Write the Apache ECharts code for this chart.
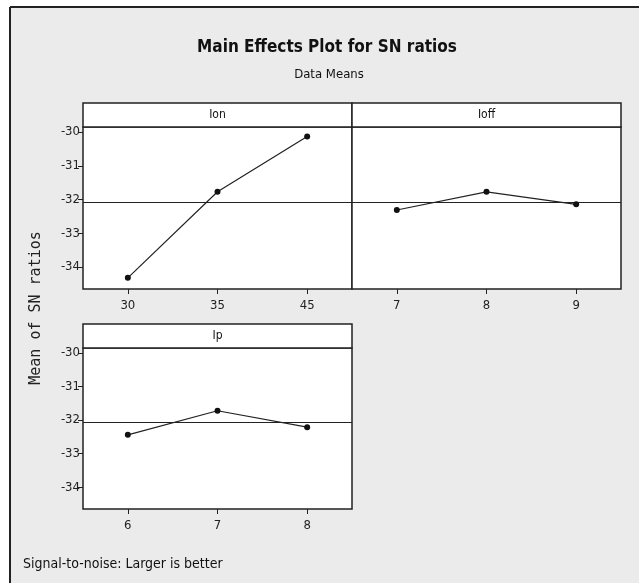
<!DOCTYPE html>
<html>
<head>
<meta charset="utf-8">
<script src="https://cdn.jsdelivr.net/npm/echarts@6/dist/echarts.min.js"></script>
<style>
  html, body {margin: 0; padding: 0; background: #fff;}
  #chart {width: 639px; height: 583px;}
</style>
</head>
<body>
<div id="chart"></div>
<script>
const ionLevels = ['30', '35', '45'];
const ionMeans = [-34.32, -31.77, -30.13];
const ioffLevels = ['7', '8', '9'];
const ioffMeans = [-32.31, -31.77, -32.14];
const ipLevels = ['6', '7', '8'];
const ipMeans = [-32.44, -31.72, -32.21];
const grandMean = -32.07;
const yTicks = [-34, -33, -32, -31, -30];

const font = "'Liberation Sans Narrow', 'DejaVu Sans Condensed', 'Liberation Sans', sans-serif";
const titleFont = "'DejaVu Sans Condensed', 'Liberation Sans Narrow', sans-serif";
const chart = echarts.init(document.getElementById('chart'));

// panel boxes (plot part, header strip sits above)
const panels = [
  {left: 83, top: 127, width: 269, height: 162, head: 103, name: 'Ion', cats: ionLevels, data: ionMeans, yLabels: true},
  {left: 352, top: 127, width: 269, height: 162, head: 103, name: 'Ioff', cats: ioffLevels, data: ioffMeans, yLabels: false},
  {left: 83, top: 348, width: 269, height: 161, head: 324, name: 'Ip', cats: ipLevels, data: ipMeans, yLabels: true}
];

const grid = panels.map(p => ({
  left: p.left, top: p.top, width: p.width, height: p.height,
  show: true, backgroundColor: '#fff', borderColor: '#222', borderWidth: 1.5
}));

const xAxis = panels.map((p, i) => ({
  type: 'category', gridIndex: i, data: p.cats, boundaryGap: true,
  axisLine: {show: false},
  axisTick: {show: true, alignWithLabel: true, inside: false, length: 5, lineStyle: {color: '#222'}},
  axisLabel: {color: '#222', fontFamily: font, fontSize: 13, margin: 10}
}));

const yAxis = panels.map((p, i) => ({
  type: 'value', gridIndex: i, min: -34.65, max: -29.85,
  splitLine: {show: false},
  axisLine: {show: false},
  axisTick: {show: p.yLabels, length: 5, customValues: yTicks, lineStyle: {color: '#222'}},
  axisLabel: {show: p.yLabels, customValues: yTicks, color: '#222', fontFamily: font, fontSize: 13, margin: 3}
}));

const series = panels.map((p, i) => ({
  type: 'line', xAxisIndex: i, yAxisIndex: i, data: p.data,
  symbol: 'circle', symbolSize: 6,
  itemStyle: {color: '#111'},
  lineStyle: {color: '#222', width: 1.2},
  markLine: {
    silent: true, symbol: 'none', label: {show: false},
    lineStyle: {color: '#222', type: 'solid', width: 1.2},
    data: [{yAxis: grandMean}]
  },
  z: 5
}));

const graphic = [
  {type: 'rect', shape: {x: 10, y: 7, width: 640, height: 590}, style: {fill: '#ebebeb'}, z: -10},
  {type: 'line', shape: {x1: 10, y1: 7, x2: 639, y2: 7}, style: {stroke: '#222', lineWidth: 2}, z: -9},
  {type: 'line', shape: {x1: 10, y1: 7, x2: 10, y2: 583}, style: {stroke: '#222', lineWidth: 2}, z: -9},
  {type: 'text', x: 327, y: 48, style: {text: 'Main Effects Plot for SN ratios', font: "bold 17px " + titleFont, fill: '#111', align: 'center', verticalAlign: 'middle'}},
  {type: 'text', x: 329, y: 75, style: {text: 'Data Means', font: "13px " + font, fill: '#111', align: 'center', verticalAlign: 'middle'}},
  {type: 'text', x: 36, y: 308, rotation: Math.PI / 2, style: {text: 'Mean of SN ratios', font: "15px 'DejaVu Sans Mono', monospace", fill: '#222', align: 'center', verticalAlign: 'middle'}},
  {type: 'text', x: 23, y: 564, style: {text: 'Signal-to-noise: Larger is better', font: "14px " + font, fill: '#111', align: 'left', verticalAlign: 'middle'}}
];

panels.forEach(p => {
  graphic.push({
    type: 'rect', shape: {x: p.left, y: p.head, width: p.width, height: p.top - p.head},
    style: {fill: '#fff', stroke: '#222', lineWidth: 1.5}, z: 1
  });
  graphic.push({
    type: 'text', x: p.left + p.width / 2, y: (p.head + p.top) / 2,
    style: {text: p.name, font: "12px " + font, fill: '#111', align: 'center', verticalAlign: 'middle'}, z: 2
  });
});

chart.setOption({
  backgroundColor: '#fff',
  animation: false,
  grid, xAxis, yAxis, series, graphic
});
</script>
</body>
</html>
